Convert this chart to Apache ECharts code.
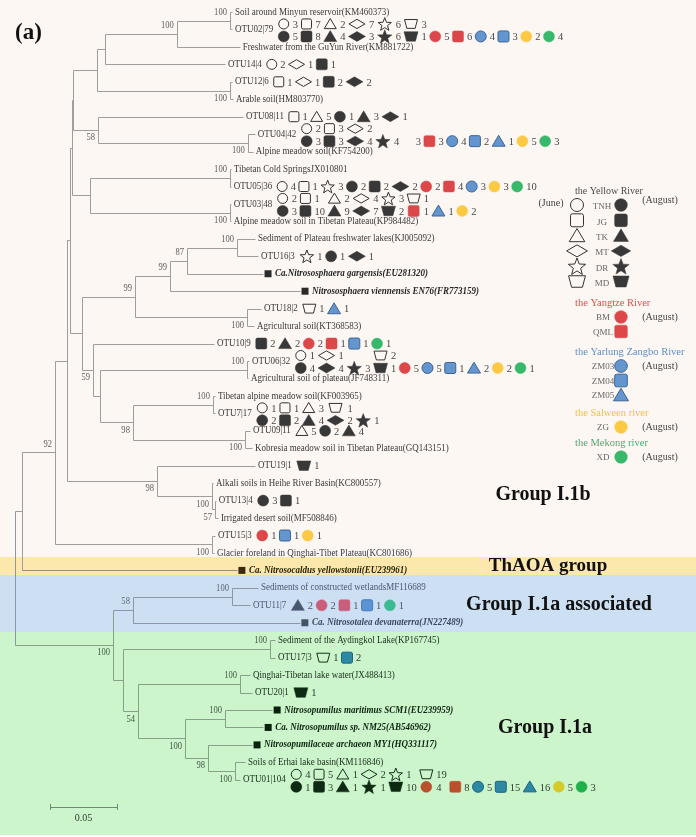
<!DOCTYPE html>
<html>
<head>
<meta charset="utf-8">
<title>AOA amoA phylogeny</title>
<script src="https://cdn.jsdelivr.net/npm/echarts@6/dist/echarts.min.js"></script>
<style>
html,body{margin:0;padding:0;background:#fff;}
#chart{width:696px;height:837px;}
</style>
</head>
<body>
<div id="chart"></div>
<script>
// ===================== DATA =====================
const leafLabels = [
 'Soil around Minyun reservoir(KM460373)','OTU02|79','Freshwater from the GuYun River(KM881722)','OTU14|4','OTU12|6',
 'Arable soil(HM803770)','OTU08|11','OTU04|42','Alpine meadow soil(KF754200)','Tibetan Cold SpringsJX010801',
 'OTU05|36','OTU03|48','Alpine meadow soil in Tibetan Plateau(KP984482)','Sediment of Plateau freshwater lakes(KJ005092)','OTU16|3',
 'Ca.Nitrososphaera gargensis(EU281320)','Nitrososphaera viennensis EN76(FR773159)','OTU18|2','Agricultural soil(KT368583)','OTU10|9',
 'OTU06|32','Agricultural soil of plateau(JF748311)','Tibetan alpine meadow soil(KF003965)','OTU7|17','OTU09|11',
 'Kobresia meadow soil in Tibetan Plateau(GQ143151)','OTU19|1','Alkali soils in Heihe River Basin(KC800557)','OTU13|4','Irrigated desert soil(MF508846)',
 'OTU15|3','Glacier foreland in Qinghai-Tibet Plateau(KC801686)','Ca. Nitrosocaldus yellowstonii(EU239961)','Sediments of constructed wetlandsMF116689','OTU11|7',
 'Ca. Nitrosotalea devanaterra(JN227489)','Sediment of the Aydingkol Lake(KP167745)','OTU17|3','Qinghai-Tibetan lake water(JX488413)','OTU20|1',
 'Nitrosopumilus maritimus SCM1(EU239959)','Ca. Nitrosopumilus sp. NM25(AB546962)','Nitrosopumilaceae archaeon MY1(HQ331117)','Soils of Erhai lake basin(KM116846)','OTU01|104'
];
const referenceStrains = [15,16,32,35,40,41,42];

// [node, parent, branch length]  (numbers = leaf index)
const treeEdges = [
 ['T','R',0.0052],['P92','T',0.0246],['X','P92',0.0090],['M','X',0.0022],['L','M',0.0015],['H','L',0.0007],
 ['E','H',0.0179],['C','E',0.0060],['B','C',0.0537],['A','B',0.0396],[0,'A',0.0015],[1,'A',0.0015],[2,'B',0.0470],
 [3,'C',0.0896],['D','E',0.0993],[4,'D',0.0015],[5,'D',0.0022],['G','H',0.0187],[6,'G',0.1082],['F','G',0.1119],
 [7,'F',0.0052],[8,'F',0.0037],['K','L',0.0134],['I','K',0.1045],[9,'I',0.0007],[10,'I',0.0007],['J','K',0.1045],
 [11,'J',0.0007],[12,'J',0.0007],
 ['S','M',0.0090],['P99b','S',0.0396],['P99a','P99b',0.0261],['P87','P99a',0.0127],['Mn','P87',0.0373],
 [13,'Mn',0.0134],[14,'Mn',0.0157],[15,'P87',0.0567],[16,'P99a',0.0970],['N18','P99b',0.0836],[17,'N18',0.0104],
 [18,'N18',0.0052],['P59','S',0.0082],[19,'P59',0.0903],['Q','P59',0.0052],['N06','Q',0.1097],[20,'N06',0.0015],
 [21,'N06',0.0007],['P98','Q',0.0246],['N07','P98',0.0597],[22,'N07',0.0015],[23,'N07',0.0015],['N09','P98',0.0836],
 [24,'N09',0.0037],[25,'N09',0.0052],
 ['P98b','X',0.0672],[26,'P98b',0.0731],['T100','P98b',0.0410],[27,'T100',0.0007],['P57','T100',0.0022],
 [28,'P57',0.0007],[29,'P57',0.0022],['N15','P92',0.1172],[30,'N15',0.0022],[31,'N15',0.0015],[32,'T',0.1604],
 ['P100r','R',0.0731],['P58','P100r',0.0149],['N11','P58',0.0739],[33,'N11',0.0194],[34,'N11',0.0134],[35,'P58',0.1246],
 ['An','P100r',0.0075],['NAy','An',0.1097],[36,'NAy',0.0037],[37,'NAy',0.0037],['P54','An',0.0112],['NQ','P54',0.0761],
 [38,'NQ',0.0075],[39,'NQ',0.0090],['P185','P54',0.0351],['Nmar','P185',0.0299],[40,'Nmar',0.0351],[41,'Nmar',0.0284],
 ['P98c','P185',0.0172],[42,'P98c',0.0328],['NE','P98c',0.0201],[43,'NE',0.0075],[44,'NE',0.0037]
];

const bootstrapValues = {A:100,B:100,D:100,G:58,F:100,I:100,J:100,Mn:100,P87:87,P99a:99,P99b:99,N18:100,P59:59,
 N06:100,N07:100,P98:98,N09:100,P92:92,P98b:98,T100:100,P57:57,N15:100,N11:100,P58:58,P100r:100,NAy:100,NQ:100,
 P54:54,Nmar:100,P185:100,P98c:98,NE:100};
const bootstrapBelow = ['D','G','F','J','N18','P59','P98','N09','P98b','T100','P57','N15','P100r','P54','P185','P98c','NE'];

// symbol code + count ; '/' separates the June / August lines
const otuSymbols = {
 1:'o3 s7 t2 d7 p6 m3 / O5 S8 T4 D3 P6 M1 rO5 rS6 bO4 bS3 yO2 gO4',
 3:'o2 d1 S1',
 4:'s1 d1 S2 D2',
 6:'s1 t5 O1 T3 D1',
 7:'o2 s3 d2 / O3 S3 D4 P4 _3 rS3 bO4 bS2 bT1 yO5 gO3',
 10:'o4 s1 p3 O2 S2 D2 rO2 rS4 bO3 yO3 gO10',
 11:'o2 s1 t2 d4 p3 m1 / O3 S10 T9 D7 M2 rS1 bT1 yO2',
 14:'p1 O1 D1',
 17:'m1 bT1',
 19:'S2 T2 rO2 rS1 bS1 gO1',
 20:'o1 d1 _ m2 / O4 D4 P3 M1 rO5 bO5 bS1 bT2 yO2 gO1',
 23:'o1 s1 t3 m1 / O2 S2 T4 D2 P1',
 24:'t5 O2 T4',
 26:'M1',
 28:'O3 S1',
 30:'rO1 bS1 yO1',
 34:'T2 rO2 rS1 bS1 gO1',
 37:'m1 bS2',
 39:'M1',
 44:'o4 s5 t1 d2 p1 m19 / O1 S3 T1 P1 M10 rO4 rS8 bO5 bS15 bT16 yO5 gO3'
};

const groupBands = [
 {name:'Group I.1b', from:-0.70, to:31.23},
 {name:'ThAOA group', from:31.23, to:32.26},
 {name:'Group I.1a associated', from:32.26, to:35.53},
 {name:'Group I.1a', from:35.53, to:47.16}
];
const scaleBar = {start:0.0261, length:0.05, row:45.56, label:'0.05'};

const legendYellowRiver = [['TNH','o','O'],['JG','s','S'],['TK','t','T'],['MT','d','D'],['DR','p','P'],['MD','m','M']];
const legendOtherRivers = [
 {title:'the Yangtze River', items:[['BM','rO'],['QML','rS']]},
 {title:'the Yarlung Zangbo River', items:[['ZM03','bO'],['ZM04','bS'],['ZM05','bT']]},
 {title:'the Salween river', items:[['ZG','yO']]},
 {title:'the Mekong river', items:[['XD','gO']]}
];

// ===================== STYLE =====================
const FONT = '"Liberation Serif","Times New Roman",Times,serif';
const TXT_SX = 0.9;
const COUNT_FONT = '10.5px ' + FONT;
const BAND_COLORS = ['#fdf7f4','#fce7ad','#cde0f3','#ccf5cc'];
const RIVER_COLORS = ['#d9534f','#5b8fc9','#f0c04a','#3cb371'];
const PAL = [
 {dark:'#383838',line:'#333333',red:'#dc4749',blue:'#6396cf',blueEdge:'#3f6593',yellow:'#fbc943',green:'#38b86a',text:'#3a3a3a',count:'#484848',branch:'#9e9e9e',boot:'#5e5e5e',refSq:'#2a2a2a',refText:'#262626'},
 {dark:'#3b2d08',line:'#3b2d08',red:'#d0503a',blue:'#5c8cb8',blueEdge:'#3a5a80',yellow:'#f2c23c',green:'#3aa860',text:'#3a3010',count:'#4a4020',branch:'#9a8f70',boot:'#5a5030',refSq:'#3b2a05',refText:'#2a2008'},
 {dark:'#4a5670',line:'#4a5670',red:'#c95d7c',blue:'#5c93d4',blueEdge:'#4a7ab8',yellow:'#e8c860',green:'#3cbb92',text:'#4d5770',count:'#4d5770',branch:'#8c96a8',boot:'#5c6478',refSq:'#475468',refText:'#3c4860'},
 {dark:'#0e2a12',line:'#14301a',red:'#b9502c',blue:'#2c88a3',blueEdge:'#1f6580',yellow:'#d4ca2a',green:'#1fb04a',text:'#182c1a',count:'#2f3f30',branch:'#86a08a',boot:'#445a46',refSq:'#0a220c',refText:'#0d230f'}
];
const X_MIN = -15/1340, X_MAX = 681/1340;
const Y_MIN = -12/17.45, Y_MAX = 825/17.45;

// ===================== BUILD =====================
const nodes = {R:{id:'R',x:0,children:[],parent:null,leaf:null}};
treeEdges.forEach(([id,parent,bl])=>{
  const key = typeof id === 'number' ? 'L'+id : id;
  nodes[key] = {id:key, leaf: typeof id==='number'?id:null, children:[], parent, x: nodes[parent].x + bl};
  nodes[parent].children.push(key);
});
function setY(key){
  const n = nodes[key];
  if(n.leaf !== null){ n.y = n.leaf; return n.y; }
  const ys = n.children.map(setY);
  n.y = (ys[0] + ys[ys.length-1]) / 2;
  return n.y;
}
setY('R');
const branchSegs = [];
Object.values(nodes).forEach(n=>{
  if(n.parent){ branchSegs.push([nodes[n.parent].x, n.y, n.x, n.y]); }
  if(n.children.length){
    const ys = n.children.map(c=>nodes[c].y);
    branchSegs.push([n.x, Math.min(...ys), n.x, Math.max(...ys)]);
  }
});
const leafTip = leafLabels.map((_,i)=>nodes['L'+i].x);
const bootData = Object.keys(bootstrapValues).map(k=>[nodes[k].x, nodes[k].y, bootstrapValues[k], bootstrapBelow.includes(k)?1:0]);
const parsedSymbols = {};
Object.keys(otuSymbols).forEach(k=>{
  parsedSymbols[k] = otuSymbols[k].split('/').map(row=>row.trim().split(/\s+/).map(tok=>{
    const m = tok.match(/^([a-zA-Z_]+)(\d*)$/); return {code:m[1], count:m[2]};
  }));
});
const annData = Object.keys(otuSymbols).map(k=>[leafTip[+k], +k]);

function bandOf(row){
  for(let i=0;i<groupBands.length;i++){ if(row>=groupBands[i].from && row<groupBands[i].to) return i; }
  return 3;
}
const mctx = document.createElement('canvas').getContext('2d');
function textWidth(t, font){ mctx.font = font; return mctx.measureText(t).width; }

const SYM_SIZE = {circle:10, square:10, triangle:12, diamond:16, star:14, trap:13};
function parseCode(code){
  if(code === '_') return null;
  let kind = 'open', c = code;
  if(code.length === 2){ kind = {r:'red',b:'blue',y:'yellow',g:'green'}[code[0]]; c = code[1]; }
  else if(code === code.toUpperCase()){ kind = 'dark'; }
  const shape = {o:'circle',s:'square',t:'triangle',d:'diamond',p:'star',m:'trap'}[c.toLowerCase()];
  return {shape, kind};
}
function symbolWidth(code){
  const s = parseCode(code); if(!s) return 10;
  return SYM_SIZE[s.shape] + (s.kind==='open'?0:1);
}
function makeSymbol(code, cx, cy, pal, scale){
  const s = parseCode(code); if(!s) return null;
  const w = symbolWidth(code) * (scale||1), h = w/2;
  let fill='none', stroke=pal.line, lw=1;
  if(s.kind==='dark'){ fill=pal.dark; stroke=pal.dark; lw=0.5; }
  else if(s.kind==='red'){ fill=pal.red; stroke=pal.red; lw=0.5; }
  else if(s.kind==='blue'){ fill=pal.blue; stroke=pal.blueEdge; lw=1; }
  else if(s.kind==='yellow'){ fill=pal.yellow; stroke=pal.yellow; lw=0.5; }
  else if(s.kind==='green'){ fill=pal.green; stroke=pal.green; lw=0.5; }
  const style = {fill, stroke, lineWidth:lw};
  if(s.shape==='circle') return {type:'circle', silent:true, shape:{cx, cy, r:h}, style};
  if(s.shape==='square') return {type:'rect', silent:true, shape:{x:cx-h, y:cy-h, width:w, height:w, r:w*0.15}, style};
  let pts;
  if(s.shape==='triangle') pts = [[cx,cy-h*0.9],[cx+h,cy+h*0.78],[cx-h,cy+h*0.78]];
  else if(s.shape==='diamond'){ const hh=h*0.58; pts=[[cx-h,cy],[cx,cy-hh],[cx+h,cy],[cx,cy+hh]]; }
  else if(s.shape==='star'){
    pts=[]; for(let k=0;k<10;k++){ const a=-Math.PI/2 + k*Math.PI/5, r=(k%2)?h*0.42:h; pts.push([cx+r*Math.cos(a), cy+h*0.1+r*Math.sin(a)]); }
  } else { const ht=h*0.68; pts=[[cx-h,cy-ht],[cx+h,cy-ht],[cx+h*0.64,cy+ht],[cx-h*0.64,cy+ht]]; }
  return {type:'polygon', silent:true, shape:{points:pts}, style};
}

// ===================== RENDERERS =====================
function renderBand(params, api){
  const i = params.dataIndex;
  const p1 = api.coord([X_MIN, api.value(1)]), p2 = api.coord([X_MAX, api.value(2)]);
  return {type:'rect', shape:{x:p1[0], y:p1[1], width:p2[0]-p1[0], height:p2[1]-p1[1]}, style:{fill:BAND_COLORS[i]}};
}
function renderBranch(params, api){
  const s = branchSegs[params.dataIndex];
  const a = api.coord([s[0], s[1]]), b = api.coord([s[2], s[3]]);
  const pal = PAL[bandOf((s[1]+s[3])/2)];
  const f = v => Math.round(v) + 0.5;
  return {type:'line', shape:{x1:f(a[0]), y1:f(a[1]), x2:f(b[0]), y2:f(b[1])}, style:{stroke:pal.branch, lineWidth:1}};
}
function renderBoot(params, api){
  const d = bootData[params.dataIndex];
  const p = api.coord([d[0], d[1]]);
  const pal = PAL[bandOf(d[1])];
  return {type:'text', x:p[0]-3, y:p[1] + (d[3] ? 8 : -8), scaleX:TXT_SX,
    style:{text:String(d[2]), font:'9.5px '+FONT, fill:pal.boot, align:'right', verticalAlign:'middle'}};
}
function renderLeaf(params, api){
  const i = params.dataIndex;
  const p = api.coord([leafTip[i], i]);
  const pal = PAL[bandOf(i)];
  const kids = [];
  if(referenceStrains.includes(i)){
    kids.push({type:'rect', shape:{x:p[0]+1.5, y:p[1]-3.5, width:7, height:7}, style:{fill:pal.refSq}});
    kids.push({type:'text', x:p[0]+12, y:p[1], scaleX:TXT_SX, style:{text:leafLabels[i], font:'italic bold 10px '+FONT, fill:pal.refText, align:'left', verticalAlign:'middle'}});
  } else {
    kids.push({type:'text', x:p[0]+3, y:p[1], scaleX:TXT_SX, style:{text:leafLabels[i], font:'10px '+FONT, fill:pal.text, align:'left', verticalAlign:'middle'}});
  }
  return {type:'group', children:kids};
}
function renderAnn(params, api){
  const leaf = annData[params.dataIndex][1];
  const p = api.coord([leafTip[leaf], leaf]);
  const pal = PAL[bandOf(leaf)];
  const rows = parsedSymbols[leaf];
  const labelEnd = p[0] + 3 + textWidth(leafLabels[leaf], '10px '+FONT) * TXT_SX;
  let x = labelEnd + 5;
  const offs = rows.length === 2 ? [-5.5, 7] : [0];
  const nCol = Math.max(...rows.map(r=>r.length));
  const kids = [];
  for(let c=0;c<nCol;c++){
    let sw = 0, cw = 0;
    rows.forEach(r=>{ if(r[c]){ sw = Math.max(sw, symbolWidth(r[c].code)); if(r[c].count) cw = Math.max(cw, textWidth(r[c].count, COUNT_FONT)); } });
    rows.forEach((r,ri)=>{
      const it = r[c]; if(!it) return;
      const y = p[1] + offs[ri];
      const s = makeSymbol(it.code, x + sw/2, y, pal, 1); if(s) kids.push(s);
      if(it.count) kids.push({type:'text', x:x+sw+3.5, y:y+1, style:{text:it.count, font:COUNT_FONT, fill:pal.count, align:'left', verticalAlign:'middle'}});
    });
    x += sw + 3.5 + cw + 3;
  }
  return {type:'group', children:kids};
}
function renderScale(params, api){
  const a = api.coord([scaleBar.start, scaleBar.row]);
  const b = api.coord([scaleBar.start + scaleBar.length, scaleBar.row]);
  const pal = PAL[bandOf(scaleBar.row)];
  const col = '#6f8a72';
  return {type:'group', children:[
    {type:'line', shape:{x1:a[0], y1:Math.round(a[1])+0.5, x2:b[0], y2:Math.round(a[1])+0.5}, style:{stroke:col, lineWidth:1}},
    {type:'line', shape:{x1:Math.round(a[0])+0.5, y1:a[1]-3, x2:Math.round(a[0])+0.5, y2:a[1]+3}, style:{stroke:col, lineWidth:1}},
    {type:'line', shape:{x1:Math.round(b[0])+0.5, y1:a[1]-3, x2:Math.round(b[0])+0.5, y2:a[1]+3}, style:{stroke:col, lineWidth:1}},
    {type:'text', x:(a[0]+b[0])/2, y:a[1]+11, style:{text:scaleBar.label, font:'10px '+FONT, fill:pal.count, align:'center', verticalAlign:'middle'}}
  ]};
}

// ===================== GRAPHIC (legend, group titles) =====================
const G = [];
function gText(t, x, y, opt){
  G.push({type:'text', x, y, silent:true, z:10, style:Object.assign({text:t, font:'10.5px '+FONT, fill:'#555', align:'center', verticalAlign:'middle'}, opt||{})});
}
function gSym(code, x, y, scale){ const s = makeSymbol(code, x, y, PAL[0], scale); if(s){ s.z = 10; G.push(s); } }
gText('(a)', 15, 33, {font:'bold 23px '+FONT, fill:'#111', align:'left'});
gText('the Yellow River', 575, 191, {font:'10px '+FONT, fill:'#4a4a4a', align:'left'});
gText('(June)', 551, 203, {font:'10px '+FONT, fill:'#444'});
gText('(August)', 660, 200, {font:'10px '+FONT, fill:'#444'});
legendYellowRiver.forEach(([name, o, f], i)=>{
  const y = 205 + i*15.3;
  gSym(o, 577, y, 1.3);
  gSym(f, 621, y, 1.15);
  gText(name, 602, y+2, {font:'9px '+FONT, fill:'#666'});
});
const titleY = [303, 352, 413, 443];
legendOtherRivers.forEach((grp, gi)=>{
  gText(grp.title, 575, titleY[gi], {font:'10.5px '+FONT, fill:RIVER_COLORS[gi], align:'left'});
  grp.items.forEach(([name, code], k)=>{
    const y = titleY[gi] + 14 + k*14.5;
    gSym(code, 621, y, 1.15);
    gText(name, 603, y+1, {font:'9px '+FONT, fill:'#666'});
    if(k===0) gText('(August)', 660, y, {font:'10px '+FONT, fill:'#444'});
  });
});
gText('Group I.1b', 543, 495, {font:'bold 20px '+FONT, fill:'#111'});
gText('ThAOA group', 548, 566, {font:'bold 19px '+FONT, fill:'#111'});
gText('Group I.1a associated', 559, 605, {font:'bold 20px '+FONT, fill:'#111'});
gText('Group I.1a', 545, 728, {font:'bold 20px '+FONT, fill:'#111'});

// ===================== CHART =====================
const chart = echarts.init(document.getElementById('chart'));
chart.setOption({
  animation:false,
  backgroundColor:'#ffffff',
  grid:{left:0, right:0, top:0, bottom:0},
  xAxis:{type:'value', min:X_MIN, max:X_MAX, show:false},
  yAxis:{type:'value', min:Y_MIN, max:Y_MAX, inverse:true, show:false},
  series:[
    {type:'custom', silent:true, z:0, renderItem:renderBand, data:groupBands.map((b,i)=>[0, b.from, b.to, i]), encode:{x:0, y:1}},
    {type:'custom', silent:true, z:1, renderItem:renderBranch, data:branchSegs, encode:{x:[0,2], y:[1,3]}},
    {type:'custom', silent:true, z:2, renderItem:renderBoot, data:bootData.map(d=>[d[0], d[1]]), encode:{x:0, y:1}},
    {type:'custom', silent:true, z:2, renderItem:renderLeaf, data:leafLabels.map((_,i)=>[leafTip[i], i]), encode:{x:0, y:1}},
    {type:'custom', silent:true, z:3, renderItem:renderAnn, data:annData, encode:{x:0, y:1}},
    {type:'custom', silent:true, z:2, renderItem:renderScale, data:[[scaleBar.start, scaleBar.row]], encode:{x:0, y:1}}
  ],
  graphic:{elements:G}
});
</script>
</body>
</html>
